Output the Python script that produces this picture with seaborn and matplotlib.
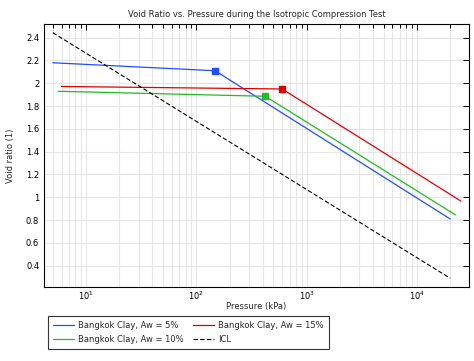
import numpy as np
import pandas as pd
import seaborn as sns
import matplotlib.pyplot as plt
from matplotlib.ticker import FixedLocator, FuncFormatter

p_aw5 = [5, 148, 20000]
e_aw5 = [2.18, 2.11, 0.81]
p_aw10 = [5.6, 422, 22400]
e_aw10 = [1.93, 1.886, 0.845]
p_aw15 = [6, 600, 25000]
e_aw15 = [1.972, 1.95, 0.967]
p_icl = [5, 20000]
e_icl = [2.444, 0.29]

# yield points (square markers)
yield_p = [148, 422, 600]
yield_e = [2.11, 1.886, 1.95]

labels = ["Bangkok Clay, Aw = 5%", "Bangkok Clay, Aw = 10%", "Bangkok Clay, Aw = 15%", "ICL"]
colors = ["#1f4fff", "#22bb22", "#e00000", "black"]

sns.set_style("white")
plt.rcParams['font.family'] = ['DejaVu Sans']

fig = plt.figure(figsize=(4.74, 3.61), dpi=100)
ax = fig.add_axes([0.093, 0.205, 0.896, 0.7285])

curves = [(p_aw5, e_aw5), (p_aw10, e_aw10), (p_aw15, e_aw15)]
for (p, e), lab, c in zip(curves, labels[:3], colors[:3]):
    df = pd.DataFrame({"p": p, "e": e})
    sns.lineplot(data=df, x="p", y="e", ax=ax, color=c, lw=0.9, label=lab,
                 estimator=None, sort=False)
df_icl = pd.DataFrame({"p": p_icl, "e": e_icl})
sns.lineplot(data=df_icl, x="p", y="e", ax=ax, color="black", lw=0.8,
             label="ICL", estimator=None, linestyle=(0, (4, 2)))

for px, ex, c in zip(yield_p, yield_e, colors[:3]):
    ax.plot([px], [ex], marker="s", ms=5, color=c, mec=c, ls="none")

ax.set_xscale("log")
ax.set_xlim(4.17, 29500)
ax.set_ylim(0.213, 2.52)
ax.yaxis.set_major_locator(FixedLocator(np.arange(0.4, 2.41, 0.2)))
ax.yaxis.set_major_formatter(FuncFormatter(lambda v, _: f"{v:.1f}".rstrip("0").rstrip(".")))

ax.grid(True, which="major", color="#e6e6e6", lw=0.8)
ax.grid(True, which="minor", axis="x", color="#e6e6e6", lw=0.8)
ax.set_axisbelow(True)
ax.tick_params(which="both", direction="in", top=True, right=True, labelsize=6, colors="black")
ax.tick_params(axis="x", which="both", pad=2)
ax.tick_params(which="major", length=4, width=0.7)
ax.tick_params(which="minor", length=3, width=0.7)
for s in ax.spines.values():
    s.set_color("black")
    s.set_linewidth(0.8)

ax.set_title("Void Ratio vs. Pressure during the Isotropic Compression Test", fontsize=6.0, pad=5)
ax.set_xlabel("Pressure (kPa)", fontsize=6.0, labelpad=0)
ax.set_ylabel("Void ratio (1)", fontsize=6.0, labelpad=8)

ax.get_legend().remove()
h, l = ax.get_legend_handles_labels()
leg = fig.legend(h, l, ncol=2,
                 loc="upper left", bbox_to_anchor=(0.093, 0.136), fontsize=6.0,
                 frameon=True, fancybox=False, edgecolor="black", borderpad=0.6,
                 handlelength=2.5, handletextpad=0.5, columnspacing=1.1,
                 labelspacing=0.6)
leg.get_frame().set_linewidth(0.8)

fig.savefig("out.png", dpi=100)
